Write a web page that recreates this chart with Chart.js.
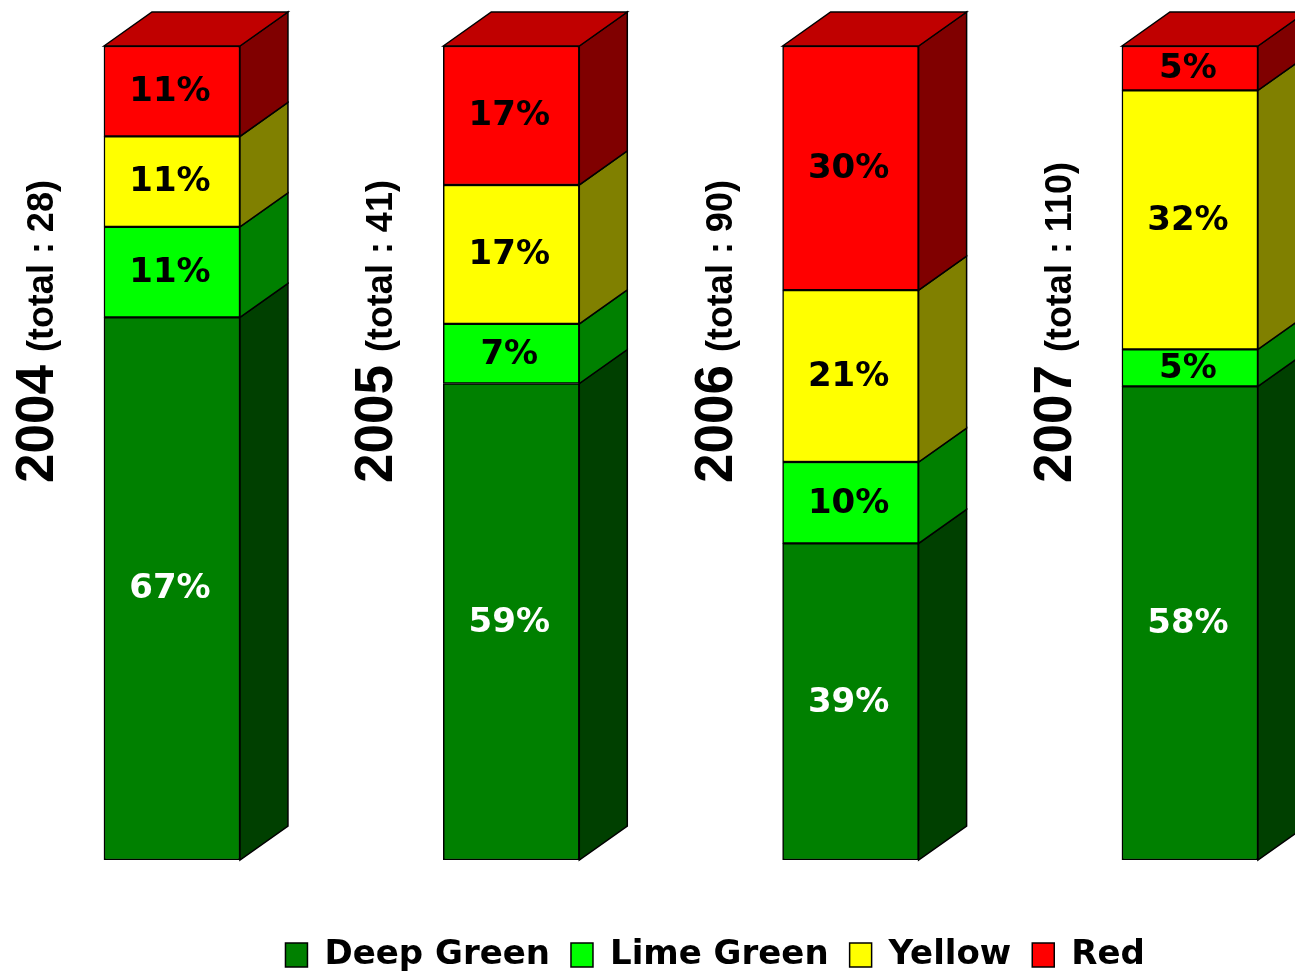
<!DOCTYPE html>
<html>
<head>
<meta charset="utf-8">
<script src="https://cdn.jsdelivr.net/npm/chart.js@4.4.1/dist/chart.umd.min.js"></script>
<style>
html,body{margin:0;padding:0;overflow:hidden;background:#ffffff;}
#wrap{width:1428px;height:982px;position:relative;}
</style>
</head>
<body>
<div id="wrap"><canvas id="c"></canvas></div>
<script>
// ---- data ----
const years = ['2004', '2005', '2006', '2007'];
const totals = [28, 41, 90, 110];          // totals printed in the labels
const deepGreen = [18, 24, 35, 64];
const limeGreen = [3, 3, 9, 5];
const yellow = [3, 7, 19, 35];
const red = [3, 7, 27, 6];
const seriesNames = ['Deep Green', 'Lime Green', 'Yellow', 'Red'];

// ---- styles ----
const frontColors = ['#008000', '#00FF00', '#FFFF00', '#FF0000'];
const sideColors = ['#004000', '#008000', '#808000', '#800000'];
const topColor = '#C00000';
const labelColors = ['#FFFFFF', '#000000', '#000000', '#000000'];
const DX = 48, DY = 34;

const counts = [deepGreen, limeGreen, yellow, red];
const colSum = years.map((_, i) => counts.reduce((s, a) => s + a[i], 0));
const share = (arr) => arr.map((v, i) => v / colSum[i] * 100);

const bar3d = {
  id: 'bar3d',
  afterDatasetsDraw(chart) {
    const ctx = chart.ctx;
    const n = chart.data.datasets.length;
    ctx.save();
    ctx.lineWidth = 1.5;
    ctx.strokeStyle = '#000000';
    ctx.lineJoin = 'miter';
    chart.data.datasets.forEach((ds, di) => {
      const meta = chart.getDatasetMeta(di);
      meta.data.forEach((bar, i) => {
        const p = bar.getProps(['x', 'y', 'base', 'width'], true);
        const l = p.x - p.width / 2, r = p.x + p.width / 2;
        const top = Math.min(p.y, p.base), bot = Math.max(p.y, p.base);
        ctx.beginPath();
        ctx.moveTo(r, top);
        ctx.lineTo(r + DX, top - DY);
        ctx.lineTo(r + DX, bot - DY);
        ctx.lineTo(r, bot);
        ctx.closePath();
        ctx.fillStyle = sideColors[di];
        ctx.fill();
        ctx.stroke();
        if (di === n - 1) {
          ctx.beginPath();
          ctx.moveTo(l, top);
          ctx.lineTo(l + DX, top - DY);
          ctx.lineTo(r + DX, top - DY);
          ctx.lineTo(r, top);
          ctx.closePath();
          ctx.fillStyle = topColor;
          ctx.fill();
          ctx.stroke();
        }
      });
    });
    // percentage labels
    ctx.font = 'bold 34px "DejaVu Sans"';
    ctx.textAlign = 'center';
    ctx.textBaseline = 'middle';
    chart.data.datasets.forEach((ds, di) => {
      const meta = chart.getDatasetMeta(di);
      meta.data.forEach((bar, i) => {
        const p = bar.getProps(['x', 'y', 'base'], true);
        const txt = Math.round(ds.data[i]) + '%';
        ctx.fillStyle = labelColors[di];
        ctx.fillText(txt, p.x - 2, (p.y + p.base) / 2 + 1);
      });
    });
    ctx.restore();
  },
  afterDraw(chart) {
    const ctx = chart.ctx;
    const meta = chart.getDatasetMeta(0);
    years.forEach((yr, i) => {
      const bar = meta.data[i];
      const p = bar.getProps(['x', 'width'], true);
      const l = p.x - p.width / 2;
      ctx.save();
      ctx.translate(l - 51, chart.chartArea.top + 437);
      ctx.rotate(-Math.PI / 2);
      ctx.fillStyle = '#000000';
      ctx.textAlign = 'left';
      ctx.textBaseline = 'alphabetic';
      ctx.font = 'bold 53px "Liberation Sans"';
      ctx.fillText(yr, 0, 0);
      const w = ctx.measureText(yr).width;
      ctx.font = 'bold 36px "Liberation Sans"';
      ctx.fillText('(total : ' + totals[i] + ')', w + 13, 0);
      ctx.restore();
    });
  }
};

new Chart(document.getElementById('c'), {
  type: 'bar',
  data: {
    labels: years,
    datasets: counts.map((arr, di) => ({
      label: seriesNames[di],
      data: share(arr),
      backgroundColor: frontColors[di],
      borderColor: '#000000',
      borderWidth: 1.5,
      borderSkipped: false,
      barThickness: 136
    }))
  },
  options: {
    responsive: true,
    maintainAspectRatio: false,
    animation: false,
    layout: { padding: { top: 46, left: 2.3, right: 0, bottom: 0 } },
    scales: {
      x: {
        stacked: true,
        offset: true,
        grid: { display: false },
        border: { display: false },
        ticks: { display: false },
        afterFit(s) { s.height = 57; }
      },
      y: {
        stacked: true,
        position: 'right',
        min: 0,
        max: 100,
        grid: { display: false },
        border: { display: false },
        ticks: { display: false },
        afterFit(s) { s.width = 68.4; }
      }
    },
    plugins: {
      tooltip: { enabled: false },
      legend: {
        position: 'bottom',
        labels: {
          color: '#000000',
          font: { family: 'DejaVu Sans', size: 34, weight: 'bold' },
          boxWidth: 22,
          boxHeight: 24,
          padding: 21
        }
      }
    }
  },
  plugins: [bar3d]
});
</script>
</body>
</html>
